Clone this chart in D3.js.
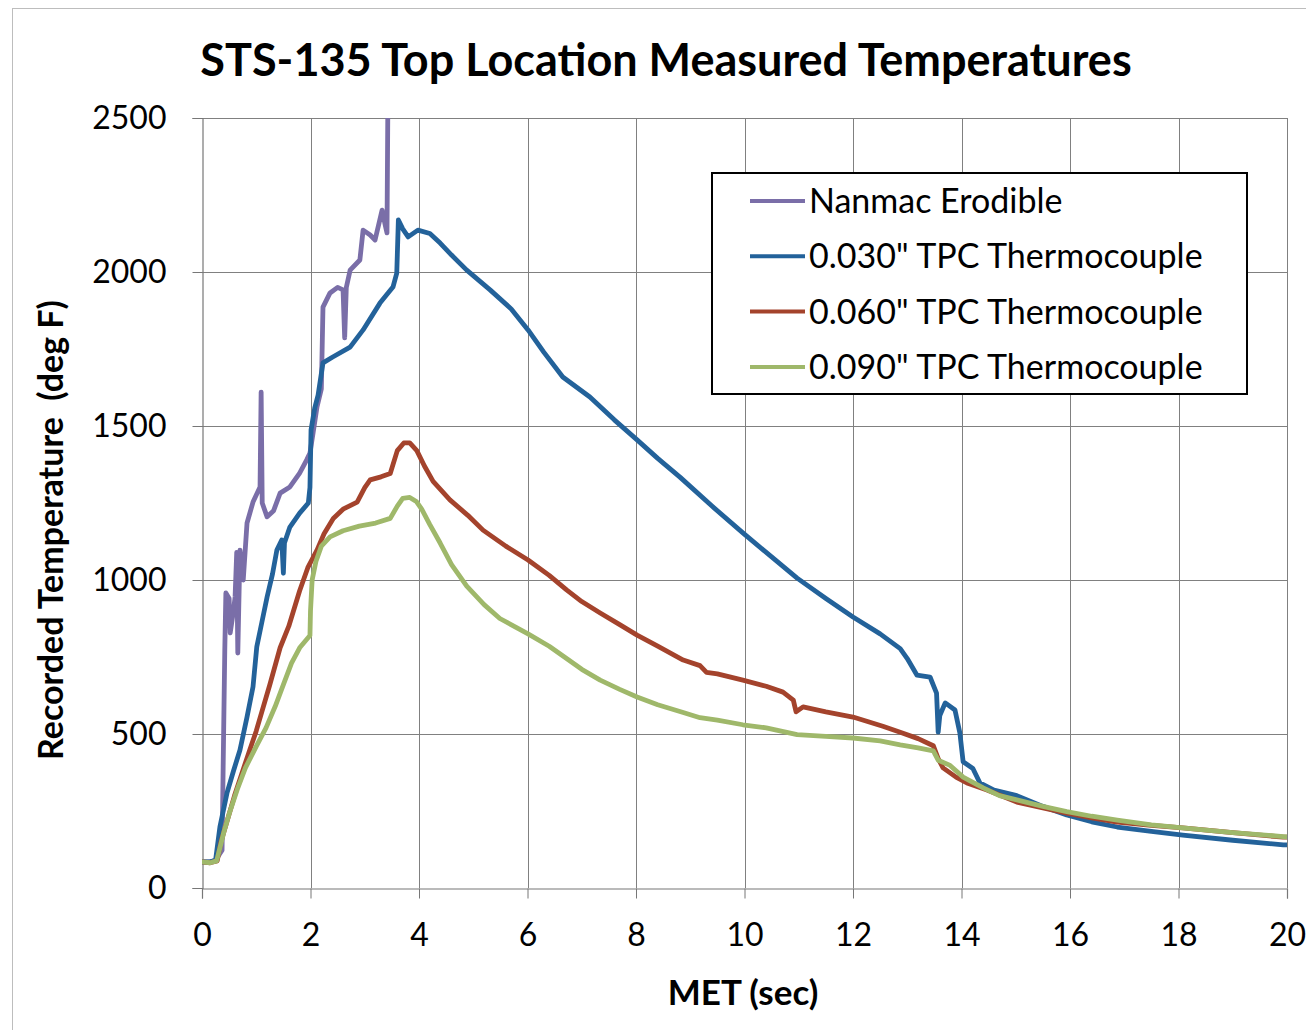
<!DOCTYPE html>
<html>
<head>
<meta charset="utf-8">
<script src="https://cdn.jsdelivr.net/npm/d3@7"></script>
<style>
  html, body { margin: 0; padding: 0; background: #fff; }
  svg { display: block; }
  text { font-family: Lato, "Open Sans", sans-serif; fill: #000; }
</style>
</head>
<body>
<svg id="chart" width="1306" height="1030"></svg>
<script>
// Measured temperatures at the top location, [MET seconds, deg F]
const nanmac = [[0,85],[0.15,85],[0.25,90],[0.37,123],[0.39,393],[0.42,773],[0.44,958],[0.5,940],[0.52,828],[0.58,900],[0.61,945],[0.64,1090],[0.66,763],[0.7,1097],[0.76,1000],[0.83,1185],[0.94,1253],[1.07,1302],[1.09,1610],[1.11,1250],[1.2,1205],[1.32,1225],[1.44,1282],[1.62,1302],[1.8,1347],[1.93,1390],[1.99,1412],[2.05,1480],[2.12,1562],[2.2,1620],[2.23,1886],[2.36,1932],[2.5,1950],[2.6,1942],[2.63,1786],[2.66,1950],[2.73,2006],[2.91,2039],[2.97,2136],[3.1,2120],[3.19,2104],[3.32,2201],[3.38,2150],[3.41,2127],[3.43,2650]];

const tpc030 = [[0,85],[0.15,85],[0.25,90],[0.33,198],[0.46,308],[0.58,380],[0.7,448],[0.83,555],[0.94,653],[1.01,783],[1.1,860],[1.2,945],[1.3,1020],[1.38,1097],[1.47,1130],[1.5,1022],[1.52,1120],[1.62,1172],[1.8,1217],[1.96,1250],[1.99,1300],[2.01,1487],[2.08,1560],[2.14,1600],[2.23,1705],[2.41,1724],[2.73,1756],[2.97,1812],[3.28,1899],[3.52,1951],[3.59,1996],[3.62,2169],[3.7,2140],[3.8,2114],[3.98,2136],[4.2,2125],[4.39,2094],[4.6,2055],[4.88,2006],[5.31,1942],[5.7,1880],[6.01,1812],[6.3,1740],[6.65,1659],[7.15,1594],[7.6,1520],[8.02,1455],[8.4,1395],[8.81,1334],[9.4,1240],[9.97,1153],[10.5,1075],[10.97,1006],[11.5,940],[12.0,880],[12.5,825],[12.87,777],[13.0,745],[13.18,691],[13.42,685],[13.54,633],[13.57,506],[13.6,560],[13.7,601],[13.88,578],[13.97,503],[14.03,410],[14.21,388],[14.34,341],[14.6,318],[15.02,300],[15.5,265],[15.94,237],[16.4,215],[16.87,198],[17.5,184],[18.08,172],[19.0,155],[19.93,140],[20,140]];

const tpc060 = [[0,85],[0.15,82],[0.28,88],[0.35,150],[0.45,210],[0.6,300],[0.75,380],[0.88,448],[1.0,510],[1.1,570],[1.25,660],[1.44,780],[1.6,850],[1.8,965],[1.95,1040],[2.12,1097],[2.25,1150],[2.42,1200],[2.6,1230],[2.86,1253],[3.0,1300],[3.1,1325],[3.3,1335],[3.47,1346],[3.6,1420],[3.72,1445],[3.83,1445],[3.96,1420],[4.1,1370],[4.26,1320],[4.57,1260],[4.9,1210],[5.18,1162],[5.6,1110],[6.01,1065],[6.4,1015],[6.72,968],[7.0,930],[7.34,893],[7.7,855],[8.02,821],[8.4,785],[8.87,740],[9.18,722],[9.3,700],[9.5,695],[9.97,675],[10.4,655],[10.71,636],[10.9,610],[10.95,572],[11.08,588],[11.5,572],[12.0,555],[12.55,525],[12.87,506],[13.2,485],[13.48,462],[13.57,420],[13.66,390],[13.9,360],[14.1,341],[14.47,318],[15.02,279],[15.5,260],[15.94,243],[16.4,228],[16.87,214],[17.5,203],[18.08,195],[19.0,180],[19.93,165],[20,165]];

const tpc090 = [[0,85],[0.15,82],[0.27,88],[0.33,130],[0.4,180],[0.5,240],[0.65,320],[0.8,390],[1.0,460],[1.18,520],[1.35,590],[1.5,660],[1.65,730],[1.8,780],[1.99,820],[2.0,900],[2.03,1000],[2.1,1060],[2.2,1110],[2.36,1140],[2.6,1160],[2.9,1175],[3.2,1185],[3.47,1200],[3.6,1240],[3.7,1265],[3.83,1268],[3.95,1255],[4.05,1230],[4.2,1180],[4.39,1120],[4.6,1050],[4.88,980],[5.2,920],[5.49,875],[6.01,825],[6.4,785],[6.72,745],[7.0,710],[7.34,675],[7.7,645],[8.02,620],[8.4,595],[8.87,570],[9.18,553],[9.5,545],[9.97,530],[10.4,520],[10.97,498],[11.5,492],[12.0,487],[12.5,478],[12.87,465],[13.2,455],[13.48,445],[13.57,415],[13.79,398],[14.03,360],[14.4,325],[14.7,300],[15.02,286],[15.5,265],[15.94,248],[16.4,233],[16.87,220],[17.5,205],[18.08,195],[19.0,180],[19.93,167],[20,166]];

const seriesNames = ["Nanmac Erodible", "0.030\" TPC Thermocouple", "0.060\" TPC Thermocouple", "0.090\" TPC Thermocouple"];
const seriesColors = ["#7a6ea8", "#23629a", "#a4432c", "#9fb86a"];
const xTicks = [0, 2, 4, 6, 8, 10, 12, 14, 16, 18, 20];
const yTicks = [0, 500, 1000, 1500, 2000, 2500];

const titleText = "STS-135 Top Location Measured Temperatures";
const xTitle = "MET (sec)";
const yTitle = "Recorded Temperature  (deg F)";

const svg = d3.select("#chart");
const plot = { left: 202, right: 1287, top: 118, bottom: 888 };

const x = d3.scaleLinear().domain([0, 20]).range([plot.left, plot.right]);
const y = d3.scaleLinear().domain([0, 2500]).range([plot.bottom, plot.top]);

// outer chart frame
svg.append("rect")
  .attr("x", 12.5).attr("y", 8.5)
  .attr("width", 1300).attr("height", 1030)
  .attr("fill", "none").attr("stroke", "#bdbdbd").attr("stroke-width", 1);

// gridlines
const grid = svg.append("g").attr("stroke", "#808080").attr("stroke-width", 1);
grid.selectAll("line.h").data(yTicks.filter(d => d > 0)).join("line")
  .attr("x1", plot.left).attr("x2", plot.right)
  .attr("y1", d => Math.round(y(d)) + 0.5).attr("y2", d => Math.round(y(d)) + 0.5);
grid.selectAll("line.v").data(xTicks.filter(d => d > 0)).join("line")
  .attr("y1", plot.top).attr("y2", plot.bottom)
  .attr("x1", d => Math.round(x(d)) + 0.5).attr("x2", d => Math.round(x(d)) + 0.5);

// axes
const yAxis = svg.append("g")
  .attr("transform", `translate(${plot.left + 0.5},0)`)
  .call(d3.axisLeft(y).tickValues(yTicks).tickSize(10).tickPadding(26).tickFormat(d3.format("d")));
const xAxis = svg.append("g")
  .attr("transform", `translate(0,${plot.bottom + 0.5})`)
  .call(d3.axisBottom(x).tickValues(xTicks).tickSize(10).tickPadding(25).tickFormat(d3.format("d")));
[yAxis, xAxis].forEach(a => {
  a.select(".domain").attr("stroke", "#777").attr("stroke-width", 1.2);
  a.selectAll(".tick line").attr("stroke", "#777");
  a.selectAll(".tick text").attr("font-family", "Lato, sans-serif").attr("font-size", 32).attr("fill", "#000");
});

// data lines
const clip = svg.append("clipPath").attr("id", "plotClip")
  .append("rect").attr("x", plot.left).attr("y", plot.top)
  .attr("width", plot.right - plot.left).attr("height", plot.bottom - plot.top);

const line = d3.line().x(d => x(d[0])).y(d => y(d[1]));
const allSeries = [nanmac, tpc030, tpc060, tpc090];
const drawOrder = [0, 1, 2, 3];
svg.append("g").attr("clip-path", "url(#plotClip)")
  .selectAll("path").data(drawOrder).join("path")
  .attr("d", i => line(allSeries[i]))
  .attr("fill", "none")
  .attr("stroke", i => seriesColors[i])
  .attr("stroke-width", 4.8)
  .attr("stroke-linejoin", "round")
  .attr("stroke-linecap", "round");

// title
svg.append("text")
  .attr("x", 666).attr("y", 76)
  .attr("text-anchor", "middle")
  .attr("font-size", 45).attr("font-weight", 700)
  .text(titleText);

// axis titles
svg.append("text")
  .attr("x", 743).attr("y", 1005)
  .attr("text-anchor", "middle")
  .attr("font-size", 35).attr("font-weight", 700)
  .text(xTitle);
svg.append("text")
  .attr("transform", "translate(63,530) rotate(-90)")
  .attr("text-anchor", "middle")
  .attr("font-size", 34).attr("font-weight", 700)
  .attr("xml:space", "preserve")
  .style("white-space", "pre")
  .text(yTitle);

// legend
const legend = svg.append("g");
legend.append("rect")
  .attr("x", 712).attr("y", 173)
  .attr("width", 535).attr("height", 221)
  .attr("fill", "#fff").attr("stroke", "#000").attr("stroke-width", 2);
const rows = legend.selectAll("g.row").data(seriesNames).join("g")
  .attr("transform", (d, i) => `translate(0,${201 + i * 55.3})`);
rows.append("line")
  .attr("x1", 750).attr("x2", 805)
  .attr("stroke", (d, i) => seriesColors[i]).attr("stroke-width", 4);
rows.append("text")
  .attr("x", 809).attr("y", 12)
  .attr("font-size", 34)
  .text(d => d);
</script>
</body>
</html>
